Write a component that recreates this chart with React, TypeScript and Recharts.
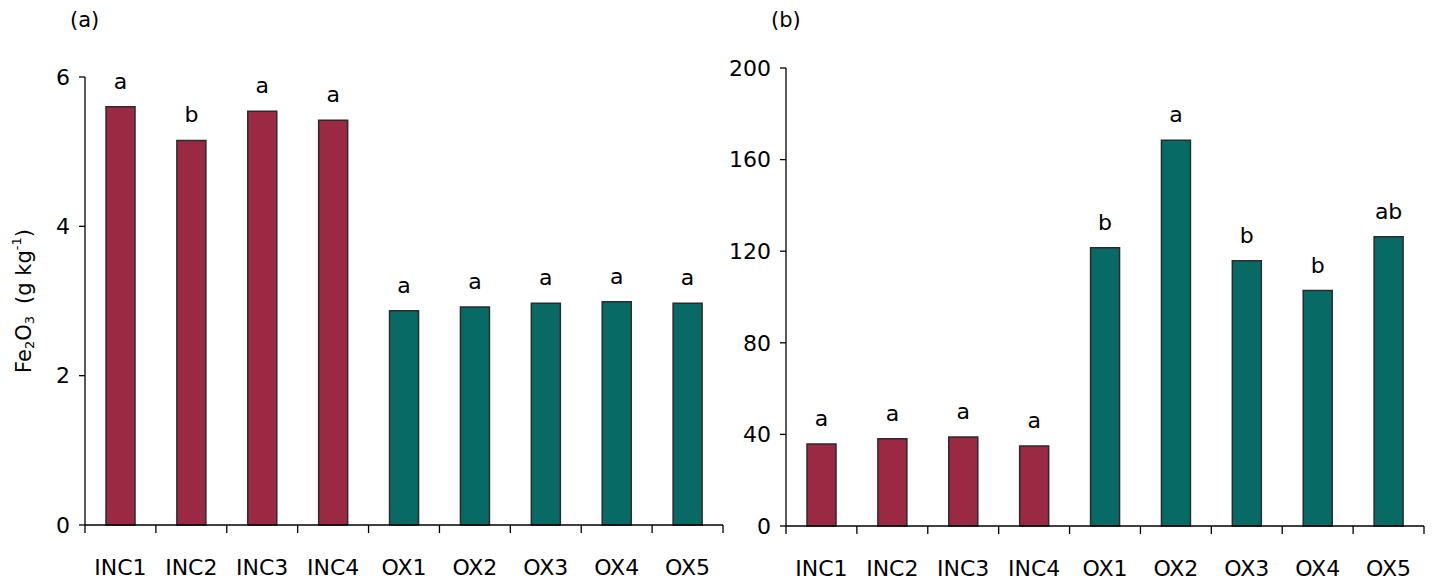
import React from 'react';
import { BarChart, Bar, XAxis, YAxis, Cell, LabelList } from 'recharts';

const categories = ['INC1', 'INC2', 'INC3', 'INC4', 'OX1', 'OX2', 'OX3', 'OX4', 'OX5'];
const groups = ['INC', 'INC', 'INC', 'INC', 'OX', 'OX', 'OX', 'OX', 'OX'];

// panel (a): Fe2O3 in g kg-1
const valuesA = [5.6, 5.15, 5.54, 5.42, 2.87, 2.92, 2.97, 2.99, 2.97];
const lettersA = ['a', 'b', 'a', 'a', 'a', 'a', 'a', 'a', 'a'];
const ticksA = [0, 2, 4, 6];

// panel (b)
const valuesB = [35.8, 38.1, 38.9, 34.9, 121.5, 168.4, 115.8, 102.8, 126.3];
const lettersB = ['a', 'a', 'a', 'a', 'b', 'a', 'b', 'b', 'ab'];
const ticksB = [0, 40, 80, 120, 160, 200];

const colors: Record<string, string> = { INC: '#9b2943', OX: '#086a65' };
const FONT = '"DejaVu Sans", sans-serif';

const buildRows = (values: number[], letters: string[]) =>
  categories.map((c, i) => ({ name: c, value: values[i], letter: letters[i], group: groups[i] }));

const dataA = buildRows(valuesA, lettersA);
const dataB = buildRows(valuesB, lettersB);

// tick marks sit on category boundaries, not centers
const makeXTick = (band: number) => (props: any) => {
  const { x, y, payload, index } = props;
  return (
    <g>
      <line x1={x - band / 2} x2={x - band / 2} y1={y} y2={y + 8} stroke="#000" strokeWidth={1.3} />
      {index === categories.length - 1 && (
        <line x1={x + band / 2} x2={x + band / 2} y1={y} y2={y + 8} stroke="#000" strokeWidth={1.3} />
      )}
      <text x={x} y={y + 50} textAnchor="middle" fontSize={22} fontFamily={FONT} fill="#000">
        {payload.value}
      </text>
    </g>
  );
};

const YTitle = () => (
  <text
    x={25}
    y={301}
    transform="rotate(-90, 25, 301)"
    textAnchor="middle"
    dominantBaseline="middle"
    fontSize={21}
    fontFamily={FONT}
    fill="#000"
  >
    <tspan>Fe</tspan>
    <tspan fontSize={13} dy={5}>2</tspan>
    <tspan dy={-5}>O</tspan>
    <tspan fontSize={13} dy={5}>3</tspan>
    <tspan dy={-5} dx={12}>(g kg</tspan>
    <tspan fontSize={13} dy={-8}>-1</tspan>
    <tspan dy={8}>)</tspan>
  </text>
);

interface PanelProps {
  data: any[];
  ticks: number[];
  max: number;
  width: number;
  margin: { top: number; right: number; bottom: number; left: number };
  showTitle?: boolean;
}

const Panel: React.FC<PanelProps> = ({ data, ticks, max, width, margin, showTitle }) => {
  const plotWidth = width - margin.left - margin.right - 60;
  const band = plotWidth / categories.length;
  return (
    <BarChart width={width} height={581} data={data} margin={margin} barSize={29}>
      <XAxis
        dataKey="name"
        height={50}
        interval={0}
        tickLine={false}
        tickSize={0}
        tickMargin={0}
        axisLine={{ stroke: '#000', strokeWidth: 1.3 }}
        tick={makeXTick(band)}
      />
      <YAxis
        width={60}
        domain={[0, max]}
        ticks={ticks}
        interval={0}
        tickSize={6}
        tickMargin={9}
        axisLine={{ stroke: '#000', strokeWidth: 1.3 }}
        tickLine={{ stroke: '#000', strokeWidth: 1.3 }}
        tick={{ fill: '#000', fontSize: 22, fontFamily: FONT }}
        label={showTitle ? { content: () => <YTitle /> } : undefined}
      />
      <Bar dataKey="value" stroke="#2b2b2b" strokeWidth={1.5} isAnimationActive={false}>
        {data.map((d, i) => (
          <Cell key={i} fill={colors[d.group]} />
        ))}
        <LabelList dataKey="letter" position="top" offset={18} fill="#000" fontSize={22} fontFamily={FONT} />
      </Bar>
    </BarChart>
  );
};

const panelLabel = (left: number): React.CSSProperties => ({
  position: 'absolute',
  left,
  top: 8,
  fontFamily: FONT,
  fontSize: 21,
  color: '#000',
});

export default function App() {
  return (
    <div style={{ position: 'absolute', left: 0, top: 0, width: 1434, height: 581, background: '#fff' }}>
      <div style={{ position: 'absolute', left: 0, top: 0 }}>
        <Panel
          data={dataA}
          ticks={ticksA}
          max={6}
          width={730}
          margin={{ top: 77, right: 7, bottom: 6, left: 25 }}
          showTitle
        />
      </div>
      <div style={{ position: 'absolute', left: 700, top: 0 }}>
        <Panel
          data={dataB}
          ticks={ticksB}
          max={200}
          width={734}
          margin={{ top: 68, right: 10, bottom: 5, left: 26 }}
        />
      </div>
      <div style={panelLabel(70)}>(a)</div>
      <div style={panelLabel(771)}>(b)</div>
    </div>
  );
}
